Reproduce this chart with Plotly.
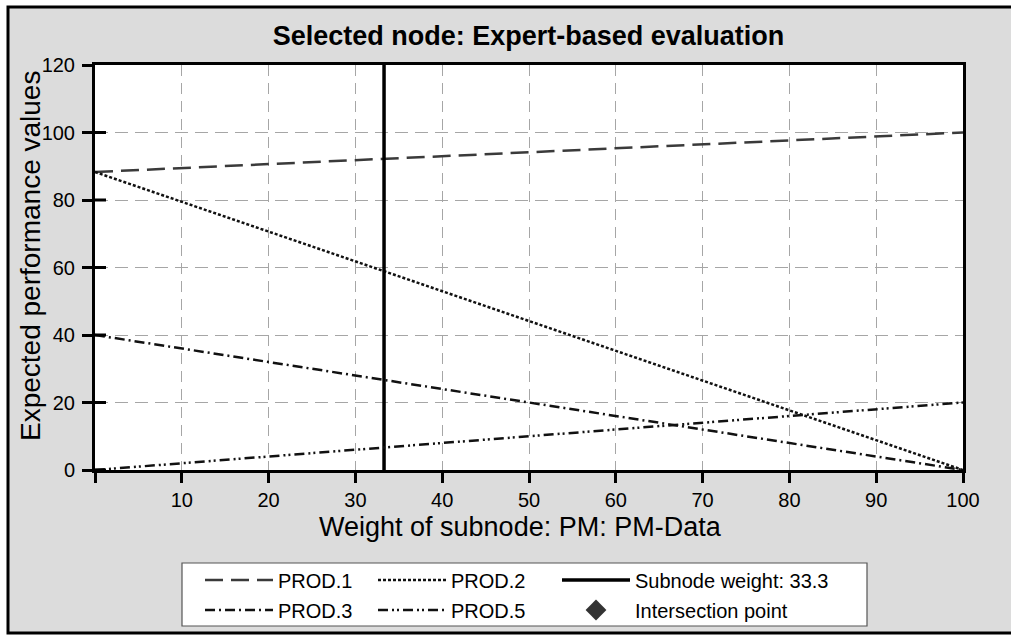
import plotly.graph_objects as go

# ---- data ----
weights = [0, 100]
prod1 = [88.3, 100.0]
prod2 = [88.3, 0.0]
prod3 = [40.0, 0.0]
prod5 = [0.0, 20.0]
subnode_weight = 33.3
y_range = [0, 120]
x_ticks = [0, 10, 20, 30, 40, 50, 60, 70, 80, 90, 100]
x_ticktext = ["", "10", "20", "30", "40", "50", "60", "70", "80", "90", "100"]
y_ticks = [0, 20, 40, 60, 80, 100, 120]

W, H = 1011, 635
ML, MR, MT, MB = 95, 48, 65, 165
PW, PH = W - ML - MR, H - MT - MB

def px_x(p):
    return (p - ML) / PW

def px_y(p):
    return (H - MB - p) / PH

FONT = "Liberation Sans, Arial, sans-serif"
LEG_FONT = dict(size=20, family=FONT, color="#000000")

fig = go.Figure()

fig.add_trace(go.Scatter(x=weights, y=prod1, mode="lines", name="PROD.1",
                         line=dict(color="#3a3a3a", width=2.5, dash="18px,8px"), legend="legend"))
fig.add_trace(go.Scatter(x=weights, y=prod2, mode="lines", name="PROD.2",
                         line=dict(color="#111111", width=2.5, dash="3px,2px"), legend="legend2"))
fig.add_trace(go.Scatter(x=[subnode_weight, subnode_weight], y=y_range, mode="lines",
                         name="Subnode weight: 33.3",
                         line=dict(color="#000000", width=3.5), legend="legend3"))
fig.add_trace(go.Scatter(x=weights, y=prod3, mode="lines", name="PROD.3",
                         line=dict(color="#111111", width=2.5, dash="10px,4px,2px,4px"), legend="legend4"))
fig.add_trace(go.Scatter(x=weights, y=prod5, mode="lines", name="PROD.5",
                         line=dict(color="#111111", width=2.5, dash="10px,4px,2px,3px,2px,4px"), legend="legend5"))
fig.add_trace(go.Scatter(x=[None], y=[None], mode="markers", name="Intersection point",
                         marker=dict(symbol="diamond", size=18, color="#333333"), legend="legend6"))

shapes = []
# outer gray frame
shapes.append(dict(type="rect", xref="paper", yref="paper", layer="below",
                   x0=px_x(8), x1=px_x(1016), y0=px_y(633), y1=px_y(7),
                   fillcolor="#dcdcdc", line=dict(color="#000000", width=3)))
# white plot area
shapes.append(dict(type="rect", xref="paper", yref="paper", layer="below",
                   x0=0, x1=1, y0=0, y1=1, fillcolor="#ffffff", line=dict(width=0)))
# legend box
shapes.append(dict(type="rect", xref="paper", yref="paper", layer="above",
                   x0=px_x(182), x1=px_x(867), y0=px_y(626), y1=px_y(563),
                   fillcolor="#ffffff", line=dict(color="#555555", width=1.2)))
# inner halves of the y ticks (ticks cross the axis)
for yv in y_ticks[:-1]:
    shapes.append(dict(type="line", xref="x", yref="y", xsizemode="pixel", xanchor=0,
                       x0=0, x1=11, y0=yv, y1=yv, line=dict(color="#000000", width=3)))

annotations = [
    dict(text="Weight of subnode: PM: PM-Data", xref="paper", yref="paper",
         x=px_x(520), y=px_y(527), xanchor="center", yanchor="middle", showarrow=False,
         font=dict(size=27, family=FONT, color="#000000")),
    dict(text="Expected performance values", xref="paper", yref="paper",
         x=px_x(30), y=px_y(256), xanchor="center", yanchor="middle", showarrow=False,
         textangle=-90, font=dict(size=28, family=FONT, color="#000000")),
]

def leg(xp, yp):
    return dict(orientation="v", x=px_x(xp), xanchor="left", y=px_y(yp), yanchor="middle",
                bgcolor="rgba(0,0,0,0)", borderwidth=0, itemwidth=68,
                font=LEG_FONT, itemclick=False, itemdoubleclick=False)

fig.update_layout(
    width=W, height=H,
    margin=dict(l=ML, r=MR, t=MT, b=MB, pad=0, autoexpand=False),
    paper_bgcolor="#ffffff", plot_bgcolor="#ffffff",
    font=dict(family=FONT, color="#000000"),
    title=dict(text="<b>Selected node: Expert-based evaluation</b>",
               x=528.5 / W, xanchor="center",
               y=1 - 36 / H, yanchor="middle",
               font=dict(size=27, family=FONT, color="#000000")),
    xaxis=dict(range=[0, 100], tickvals=x_ticks, ticktext=x_ticktext,
               showline=True, linecolor="#000000", linewidth=3, mirror=True,
               ticks="outside", ticklen=10, tickwidth=3, tickcolor="#000000",
               showgrid=True, gridcolor="#a6a6a6", gridwidth=1.3, griddash="11px,7px",
               zeroline=False, tickfont=dict(size=20, family=FONT)),
    yaxis=dict(range=y_range, tickvals=y_ticks,
               showline=True, linecolor="#000000", linewidth=3, mirror=True,
               ticks="outside", ticklen=10, tickwidth=3, tickcolor="#000000",
               showgrid=True, gridcolor="#a6a6a6", gridwidth=1.3, griddash="13px,7px",
               zeroline=False, tickfont=dict(size=20, family=FONT), ticklabelstandoff=3),
    shapes=shapes,
    annotations=annotations,
    legend=leg(200, 580),
    legend2=leg(373, 580),
    legend3=leg(557, 580),
    legend4=leg(200, 610),
    legend5=leg(373, 610),
    legend6=leg(557, 610),
    showlegend=True,
)

fig.write_html("out.html", config={"displayModeBar": False},
               post_script="document.body.style.margin='0px';document.body.style.overflow='hidden';")
